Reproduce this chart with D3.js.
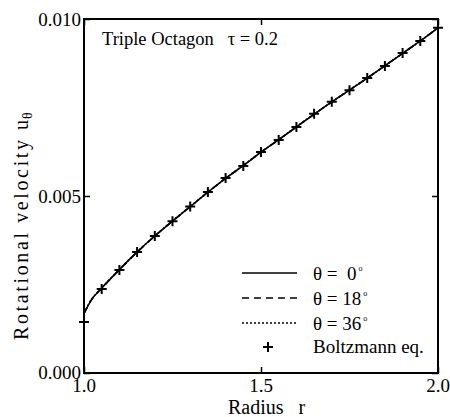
<!DOCTYPE html>
<html>
<head>
<meta charset="utf-8">
<script src="https://cdn.jsdelivr.net/npm/d3@7"></script>
<style>
  body { margin: 0; background: #fff; }
</style>
</head>
<body>
<svg id="chart" width="450" height="417"></svg>
<script>
// Boltzmann eq. points
const radius = [1.0, 1.05, 1.1, 1.15, 1.2, 1.25, 1.3, 1.35, 1.4, 1.45, 1.5,
  1.55, 1.6, 1.65, 1.7, 1.75, 1.8, 1.85, 1.9, 1.95, 2.0]
const boltzmann = [0.00144, 0.00237, 0.00291, 0.00342, 0.00387, 0.00429, 0.00470,
  0.00511, 0.00551, 0.00585, 0.00624, 0.00658, 0.00695, 0.00732, 0.00766,
  0.00799, 0.00833, 0.00867, 0.00904, 0.00938, 0.00975]

// curves for the three angles (they lie on top of each other)
const lineR = [1.0, 1.02, 1.05, 1.1, 1.15, 1.2, 1.25, 1.3, 1.35, 1.4, 1.45, 1.5,
  1.55, 1.6, 1.65, 1.7, 1.75, 1.8, 1.85, 1.9, 1.95, 2.0]
const theta0 = [0.00168, 0.00205, 0.00240, 0.00292, 0.00342, 0.00387, 0.00429, 0.00470,
  0.00511, 0.00550, 0.00586, 0.00624, 0.00659, 0.00695, 0.00731, 0.00766,
  0.00799, 0.00833, 0.00868, 0.00903, 0.00938, 0.00975]
const theta18 = [0.00168, 0.00205, 0.00239, 0.00292, 0.00341, 0.00387, 0.00429, 0.00470,
  0.00511, 0.00550, 0.00586, 0.00624, 0.00659, 0.00695, 0.00731, 0.00766,
  0.00799, 0.00833, 0.00868, 0.00903, 0.00938, 0.00975]
const theta36 = [0.00169, 0.00206, 0.00240, 0.00292, 0.00342, 0.00387, 0.00430, 0.00470,
  0.00511, 0.00550, 0.00587, 0.00624, 0.00659, 0.00696, 0.00731, 0.00766,
  0.00800, 0.00833, 0.00868, 0.00903, 0.00938, 0.00975]

const xTicks = [1.0, 1.5, 2.0]
const yTicks = [0.000, 0.005, 0.010]

const plotL = 84, plotR = 438, plotT = 19, plotB = 373

const svg = d3.select('#chart')

// helper for serif text
const txt = (g, size) => g.append('text')
  .style('font-family', '"Liberation Serif"')
  .attr('font-size', size)
  .attr('fill', '#000')
  .style('white-space', 'pre')

// scales
const x = d3.scaleLinear().domain([1, 2]).range([plotL, plotR])
const y = d3.scaleLinear().domain([0, 0.01]).range([plotB, plotT])

// frame
svg.append('rect')
  .attr('x', plotL).attr('y', plotT)
  .attr('width', plotR - plotL).attr('height', plotB - plotT)
  .attr('fill', 'none').attr('stroke', '#000').attr('stroke-width', 2)

// inward ticks on all four sides
const tl = 6
svg.append('g').attr('transform', `translate(0,${plotB})`)
  .call(d3.axisTop(x).tickValues(xTicks).tickSize(tl).tickFormat(''))
svg.append('g').attr('transform', `translate(0,${plotT})`)
  .call(d3.axisBottom(x).tickValues(xTicks).tickSize(tl).tickFormat(''))
svg.append('g').attr('transform', `translate(${plotL},0)`)
  .call(d3.axisRight(y).tickValues(yTicks).tickSize(tl).tickFormat(''))
svg.append('g').attr('transform', `translate(${plotR},0)`)
  .call(d3.axisLeft(y).tickValues(yTicks).tickSize(tl).tickFormat(''))
svg.selectAll('.domain').remove()
svg.selectAll('.tick line').attr('stroke-width', 1.5)

// tick labels
xTicks.forEach(d => {
  txt(svg, 19).attr('x', x(d)).attr('y', plotB + 19)
    .attr('text-anchor', 'middle').text(d.toFixed(1))
})
yTicks.forEach(d => {
  txt(svg, 19).attr('x', plotL - 3).attr('y', d === 0 ? y(d) + 6 : y(d) + 7)
    .attr('text-anchor', 'end').text(d.toFixed(3))
})

// axis titles
txt(svg, 20).attr('x', 228).attr('y', 414).text('Radius   r')

const yg = svg.append('g').attr('transform', 'translate(28,0) rotate(-90)')
txt(yg, 20).attr('x', -340).attr('y', 0)
  .attr('textLength', 200).attr('lengthAdjust', 'spacing')
  .text('Rotational velocity')
const ut = txt(yg, 20).attr('x', -130).attr('y', 0)
ut.append('tspan').text('u')
ut.append('tspan').attr('dy', 4).attr('dx', 1).attr('font-size', 14).text('θ')

// label inside
txt(svg, 18.5).attr('x', 102).attr('y', 45).text('Triple Octagon   τ = 0.2')

// curves
const series = [
  { vals: theta0, dash: null },
  { vals: theta18, dash: '7,5' },
  { vals: theta36, dash: '2,2' },
]
const line = d3.line()
  .x((d, i) => x(lineR[i]))
  .y(d => y(d))
  .curve(d3.curveMonotoneX)
series.forEach(s => {
  svg.append('path')
    .datum(s.vals)
    .attr('d', line)
    .attr('fill', 'none').attr('stroke', '#000').attr('stroke-width', 1.6)
    .attr('stroke-dasharray', s.dash)
})

// Boltzmann markers
const ms = 5
const plus = (g, cx, cy) => {
  g.append('path')
    .attr('d', `M${cx - ms},${cy}H${cx + ms}M${cx},${cy - ms}V${cy + ms}`)
    .attr('stroke', '#000').attr('stroke-width', 2)
}
const mg = svg.append('g')
boltzmann.forEach((v, i) => plus(mg, x(radius[i]), y(v)))

// legend
const legend = [
  { label: 'θ =  0', dash: null },
  { label: 'θ = 18', dash: '7,5' },
  { label: 'θ = 36', dash: '2,2' },
]
legend.forEach((d, i) => {
  const ly = 273 + i * 25
  svg.append('line')
    .attr('x1', 242).attr('x2', 297).attr('y1', ly).attr('y2', ly)
    .attr('stroke', '#000').attr('stroke-width', 1.6)
    .attr('stroke-dasharray', d.dash)
  const t = txt(svg, 19).attr('x', 313).attr('y', ly + 7)
  t.append('tspan').text(d.label)
  t.append('tspan').attr('dy', -9).attr('dx', 2).attr('font-size', 8).text('o')
})
plus(svg, 268, 347)
txt(svg, 19).attr('x', 313).attr('y', 353).text('Boltzmann eq.')
</script>
</body>
</html>
